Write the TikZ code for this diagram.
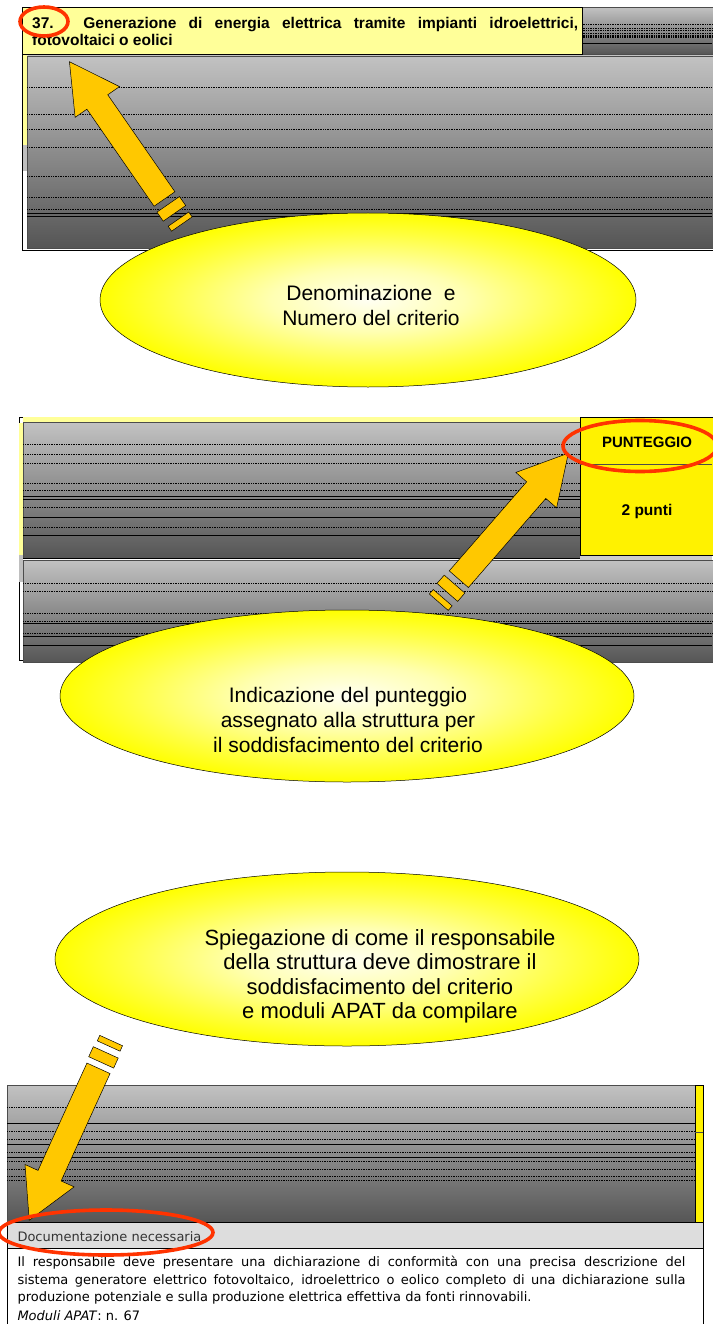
\documentclass[tikz,border=0pt]{standalone}
\usepackage{fontspec}
\setmainfont{Liberation Sans}
\newfontfamily\tahomalike{DejaVu Sans}
\usetikzlibrary{shapes.geometric}

\definecolor{pale}{HTML}{FFFF99}
\definecolor{marker}{HTML}{FF3300}
\definecolor{gold}{HTML}{FFC800}
\definecolor{paneltop}{HTML}{C2C2C2}
\definecolor{panelbot}{HTML}{555555}
\definecolor{labelgray}{HTML}{DDDDDD}
\pgfdeclareradialshading{glow}{\pgfpoint{0bp}{0bp}}{%
  color(0bp)=(yellow!5!white); color(9bp)=(yellow!30!white);
  color(19bp)=(yellow!75!white); color(25bp)=(yellow); color(50bp)=(yellow)}

\begin{document}
\begin{tikzpicture}[x=1pt, y=1pt,
        panel/.style = {top color=paneltop, bottom color=panelbot, draw=black!70, line width=0.6pt},
     dashrule/.style = {black, line width=0.5pt, dash pattern=on 1pt off 0.7pt},
     fullrule/.style = {black, line width=0.6pt},
       bubble/.style = {ellipse, draw, line width=0.5pt, shade, shading=glow, inner sep=0pt},
     bubbletxt/.style = {align=center, inner sep=0pt, font=\fontsize{21}{25}\selectfont},
         ring/.style = {ellipse, draw=marker, line width=3.6pt, inner sep=0pt},
    arrowpart/.style = {fill=gold, draw=black, line width=0.5pt, line join=miter},
     bodyline/.style = {anchor=base west, inner sep=0pt, font=\tahomalike\fontsize{13}{17.7}\selectfont},
     pics/bigarrow/.style = {code={
        \draw[arrowpart] (0,-12.7) -- (118,-12.7) -- (118,-27) -- (167,0)
                         -- (118,27) -- (118,12.7) -- (0,12.7) -- cycle;
        \draw[arrowpart] (-6.5,-13.7) rectangle (-17.5,13.7);
        \draw[arrowpart] (-24.5,-12.5) rectangle (-30.5,12.5);
     }}
                                ]
    \useasboundingbox (0,0) rectangle (712,-1324);

    % first table: name of the criterion
    \draw[black, line width=0.8pt] (22.7,-7.3) rectangle (720,-250);
    \fill[pale] (22.7,-54.3) rectangle (27.3,-145);
    \fill[black!25] (22.7,-145) rectangle (27.3,-171);
    \draw[panel] (27.3,-56) rectangle (716,-248);
    \foreach \y in {87.3,114.3,129,147,176,197.7,209.3}
        \draw[dashrule] (27.3,-\y) -- (712,-\y);
    \foreach \y in {213.3,216.7}
        \draw[fullrule] (27.3,-\y) -- (712,-\y);
    \draw[panel] (582.7,-7.3) rectangle (716,-54.3);
    \foreach \y in {24,28.7,30.7,33.3,35,36.3,37.7}
        \draw[dashrule] (582.7,-\y) -- (712,-\y);
    \draw[fullrule] (582.7,-43.3) -- (712,-43.3);
    \draw[fill=pale, draw=black, line width=0.7pt] (22.7,-7.3) rectangle (582.7,-54.3);
    \node[anchor=base west, inner sep=0pt, font=\bfseries\fontsize{15.5}{18}\selectfont] (title)
        at (32,-28.3) {\makebox[546pt][s]{37. Generazione di energia elettrica tramite impianti idroelettrici,}};
    \node[anchor=base west, inner sep=0pt, font=\bfseries\fontsize{15.5}{18}\selectfont] (titlecont)
        at (32,-46) {fotovoltaici o eolici};

    % second table: score
    \draw[black, line width=0.8pt] (19.3,-417.3) rectangle (720,-660);
    \fill[pale] (22.7,-417.3) rectangle (580,-422.7);
    \fill[pale] (19.3,-422.7) rectangle (23.3,-555);
    \fill[black!25] (19.3,-555) rectangle (23.3,-581.7);
    \draw[panel] (23.3,-422.7) rectangle (580,-558.3);
    \foreach \y in {444.3,454.3,463.3,483.3,490.3,507.3,527.3}
        \draw[dashrule] (23.3,-\y) -- (580,-\y);
    \foreach \y in {496.7,499.3,517.3,535.3}
        \draw[fullrule] (23.3,-\y) -- (580,-\y);
    \draw[black, line width=1.2pt] (23.3,-558.3) -- (580,-558.3);
    \fill[black!20] (580,-555.7) rectangle (712,-560);
    \draw[panel] (23.3,-560) rectangle (716,-662.7);
    \foreach \y in {583.3,591.3,613.3,621.7,633.3}
        \draw[dashrule] (23.3,-\y) -- (712,-\y);
    \foreach \y in {623.3,636.7,645.3}
        \draw[fullrule] (23.3,-\y) -- (712,-\y);
    \draw[fill=yellow, draw=black, line width=0.7pt] (580,-417.3) rectangle (716,-555.7);
    \draw[black!70, line width=0.6pt] (580,-464.3) -- (712,-464.3);
    \node[font=\bfseries\fontsize{15}{18}\selectfont] (score) at (647,-442) {PUNTEGGIO};
    \node[font=\bfseries\fontsize{15.5}{18}\selectfont] (points) at (647,-511) {2 punti};

    % third table: documents
    \draw[panel] (7.3,-1085) rectangle (695,-1222.7);
    \foreach \y in {1107.3,1131.7,1139.3,1152.3,1161,1169.3,1176.7,1180.7}
        \draw[dashrule] (7.3,-\y) -- (695,-\y);
    \foreach \y in {1123.3,1144.3,1157.3}
        \draw[fullrule] (7.3,-\y) -- (695,-\y);
    \draw[fill=yellow, draw=black, line width=0.6pt] (695,-1085) rectangle (703.3,-1222.7);
    \draw[black!70, line width=0.5pt] (695,-1132.7) -- (703.3,-1132.7);
    \draw[fill=labelgray, draw=black, line width=0.7pt] (7.3,-1222.7) rectangle (703.3,-1248.3);
    \draw[fill=white, draw=black, line width=0.7pt] (7.3,-1248.3) rectangle (703.3,-1330);
    \node[anchor=base west, inner sep=0pt, text=black!80,
          font=\tahomalike\fontsize{13}{17}\selectfont] (doclabel)
        at (17.3,-1241.7) {Documentazione necessaria};
    \node[bodyline] (body1) at (17.3,-1266.7)
        {\makebox[668pt][s]{Il responsabile deve presentare una dichiarazione di conformità con una precisa descrizione del}};
    \node[bodyline] (body2) at (17.3,-1284)
        {\makebox[668pt][s]{sistema generatore elettrico fotovoltaico, idroelettrico o eolico completo di una dichiarazione sulla}};
    \node[bodyline] (body3) at (17.3,-1301.7)
        {produzione potenziale e sulla produzione elettrica effettiva da fonti rinnovabili.};
    \node[bodyline] (body4) at (17.3,-1320) {\textit{Moduli APAT}: n. 67};

    % bubbles
    \node[bubble, minimum width=536pt, minimum height=174pt] (namebubble) at (368,-300) {};
    \node[bubbletxt] (nametxt) at (371,-305) {Denominazione\ \ e\\Numero del criterio};
    \node[bubble, minimum width=574pt, minimum height=172pt] (scorebubble) at (347,-696) {};
    \node[bubbletxt] (scoretxt) at (348,-720)
        {Indicazione del punteggio\\assegnato alla struttura per\\il soddisfacimento del criterio};
    \node[bubble, minimum width=584pt, minimum height=174pt] (docbubble) at (347,-959) {};
    \node[bubbletxt, font=\fontsize{22}{24.5}\selectfont] (doctxt) at (380,-976.5)
        {Spiegazione di come il responsabile\\della struttura deve dimostrare il\\soddisfacimento del criterio\\e moduli APAT da compilare};

    % arrows
    \pic[rotate=124.7] at (164.5,-199) {bigarrow};
    \pic[rotate=49] at (458.8,-579.2) {bigarrow};
    \pic[rotate=-114.5] at (98.5,-1068.3) {bigarrow};

    % red rings
    \node[ring, minimum width=48pt, minimum height=29pt] (numring) at (44,-21.5) {};
    \node[ring, minimum width=154pt, minimum height=51pt] (scorering) at (640,-446) {};
    \node[ring, minimum width=214pt, minimum height=45pt] (docring) at (106,-1232.5) {};
\end{tikzpicture}
\end{document}
